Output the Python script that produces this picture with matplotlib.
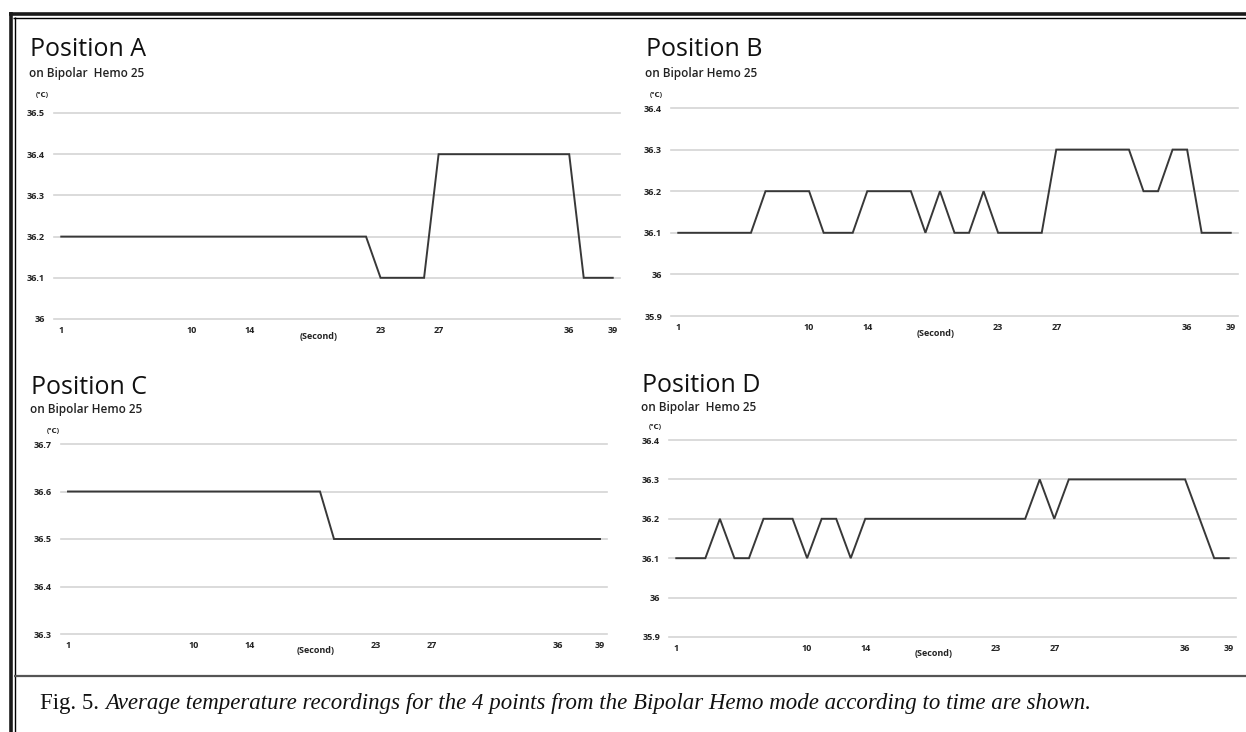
import numpy as np
import matplotlib
matplotlib.use('Agg')
import matplotlib.pyplot as plt
from matplotlib.lines import Line2D

W, H = 1246, 732

# ── data ──
seconds = list(range(1, 40))
xtick_labels = [1, 10, 14, 23, 27, 36, 39]

pos_a = [36.2, 36.2, 36.2, 36.2, 36.2, 36.2, 36.2, 36.2, 36.2, 36.2,
         36.2, 36.2, 36.2, 36.2, 36.2, 36.2, 36.2, 36.2, 36.2, 36.2,
         36.2, 36.2, 36.1, 36.1, 36.1, 36.1, 36.4, 36.4, 36.4, 36.4,
         36.4, 36.4, 36.4, 36.4, 36.4, 36.4, 36.1, 36.1, 36.1]
pos_b = [36.1, 36.1, 36.1, 36.1, 36.1, 36.1, 36.2, 36.2, 36.2, 36.2,
         36.1, 36.1, 36.1, 36.2, 36.2, 36.2, 36.2, 36.1, 36.2, 36.1,
         36.1, 36.2, 36.1, 36.1, 36.1, 36.1, 36.3, 36.3, 36.3, 36.3,
         36.3, 36.3, 36.2, 36.2, 36.3, 36.3, 36.1, 36.1, 36.1]
pos_c = [36.6, 36.6, 36.6, 36.6, 36.6, 36.6, 36.6, 36.6, 36.6, 36.6,
         36.6, 36.6, 36.6, 36.6, 36.6, 36.6, 36.6, 36.6, 36.6, 36.5,
         36.5, 36.5, 36.5, 36.5, 36.5, 36.5, 36.5, 36.5, 36.5, 36.5,
         36.5, 36.5, 36.5, 36.5, 36.5, 36.5, 36.5, 36.5, 36.5]
pos_d = [36.1, 36.1, 36.1, 36.2, 36.1, 36.1, 36.2, 36.2, 36.2, 36.1,
         36.2, 36.2, 36.1, 36.2, 36.2, 36.2, 36.2, 36.2, 36.2, 36.2,
         36.2, 36.2, 36.2, 36.2, 36.2, 36.3, 36.2, 36.3, 36.3, 36.3,
         36.3, 36.3, 36.3, 36.3, 36.3, 36.3, 36.2, 36.1, 36.1]

yticks_a = [36.0, 36.1, 36.2, 36.3, 36.4, 36.5]
yticks_b = [35.9, 36.0, 36.1, 36.2, 36.3, 36.4]
yticks_c = [36.3, 36.4, 36.5, 36.6, 36.7]
yticks_d = [35.9, 36.0, 36.1, 36.2, 36.3, 36.4]

titles = ['Position A', 'Position B', 'Position C', 'Position D']
subtitles = ['on Bipolar  Hemo 25', 'on Bipolar Hemo 25',
             'on Bipolar Hemo 25', 'on Bipolar  Hemo 25']

SANS = ['Open Sans', 'DejaVu Sans']
LINE_C = '#383838'
GRID_C = '#d4d4d4'


def ylab(v):
    s = f'{v:.1f}'
    return s[:-2] if s.endswith('.0') else s


def frac(x, y):
    return x / W, 1 - y / H


def panel(fig, box, vals, yticks, title, sub, title_xy, sub_xy, unit_xy):
    # box = (left, top, right, bottom) in pixels, spanning the gridlines
    l, t, r, b = box
    ax = fig.add_axes([l / W, 1 - b / H, (r - l) / W, (b - t) / H])
    ax.plot(seconds, vals, color=LINE_C, lw=1.4, solid_joinstyle='miter', zorder=3)
    ax.set_xlim(0.5, 39.5)
    ax.set_ylim(yticks[0], yticks[-1])
    for v in yticks:
        ax.axhline(v, color=GRID_C, lw=1.2, zorder=1, clip_on=False)
    ax.set_yticks(yticks)
    ax.set_yticklabels([ylab(v) for v in yticks])
    ax.set_xticks(xtick_labels)
    ax.set_xticklabels([str(v) for v in xtick_labels])
    ax.tick_params(length=0, labelsize=6.5, colors='#222222')
    ax.tick_params(axis='y', pad=6.5)
    ax.tick_params(axis='x', pad=5)
    for lb in ax.get_xticklabels() + ax.get_yticklabels():
        lb.set_fontweight('bold'); lb.set_family(SANS)
    for s in ax.spines.values():
        s.set_visible(False)
    ax.patch.set_alpha(0)
    ax.text(18.7, -0.085, '(Second)', transform=ax.get_xaxis_transform(),
            ha='center', va='center', fontsize=6.5, fontweight='bold',
            family=SANS, color='#222222')
    fig.text(*frac(*title_xy), title, fontsize=18, family=SANS,
             va='center', ha='left', color='#111111')
    fig.text(*frac(*sub_xy), sub, fontsize=8.5, family=SANS, fontweight='semibold',
             va='center', ha='left', color='#222222')
    fig.text(*frac(*unit_xy), '(℃)', fontsize=5, family=SANS, fontweight='bold',
             va='center', ha='center', color='#222222')
    return ax


fig = plt.figure(figsize=(W / 100, H / 100), dpi=100)

panel(fig, (54, 113, 620, 319), pos_a, yticks_a, titles[0], subtitles[0],
      (30, 50), (29, 74), (42, 96))
panel(fig, (671, 108, 1238, 316), pos_b, yticks_b, titles[1], subtitles[1],
      (646, 50), (645, 74), (656, 96))
panel(fig, (61, 444, 607, 634), pos_c, yticks_c, titles[2], subtitles[2],
      (31, 387), (30, 410), (53, 431))
panel(fig, (669, 440, 1236, 637), pos_d, yticks_d, titles[3], subtitles[3],
      (642, 385), (641, 408), (655, 427))

# ── frame (double rule top / left, grey rule above the caption) ──
def rule(x0, y0, x1, y1, lw, c):
    fig.add_artist(Line2D([x0 / W, x1 / W], [1 - y0 / H, 1 - y1 / H],
                          transform=fig.transFigure, lw=lw, color=c,
                          solid_capstyle='butt'))

rule(9, 13.5, W, 13.5, 2.6, '#1a1a1a')
rule(13.5, 17.5, W, 17.5, 1.0, '#000000')
rule(10.5, 12, 10.5, H, 2.6, '#1a1a1a')
rule(14.5, 17, 14.5, H, 1.0, '#000000')
rule(14, 675.5, W, 675.5, 1.6, '#555555')

# ── caption ──
cx, cy = frac(40, 704)
t1 = fig.text(cx, cy, 'Fig. 5. ', fontsize=16.5, family='Liberation Serif',
              va='center', ha='left', color='#111111')
fig.canvas.draw()
bb = t1.get_window_extent()
fig.text(bb.x1 / W, cy,
         'Average temperature recordings for the 4 points from the Bipolar Hemo mode '
         'according to time are shown.',
         fontsize=16.5, family='Liberation Serif', style='italic',
         va='center', ha='left', color='#111111')

fig.savefig('out.png', dpi=100)
